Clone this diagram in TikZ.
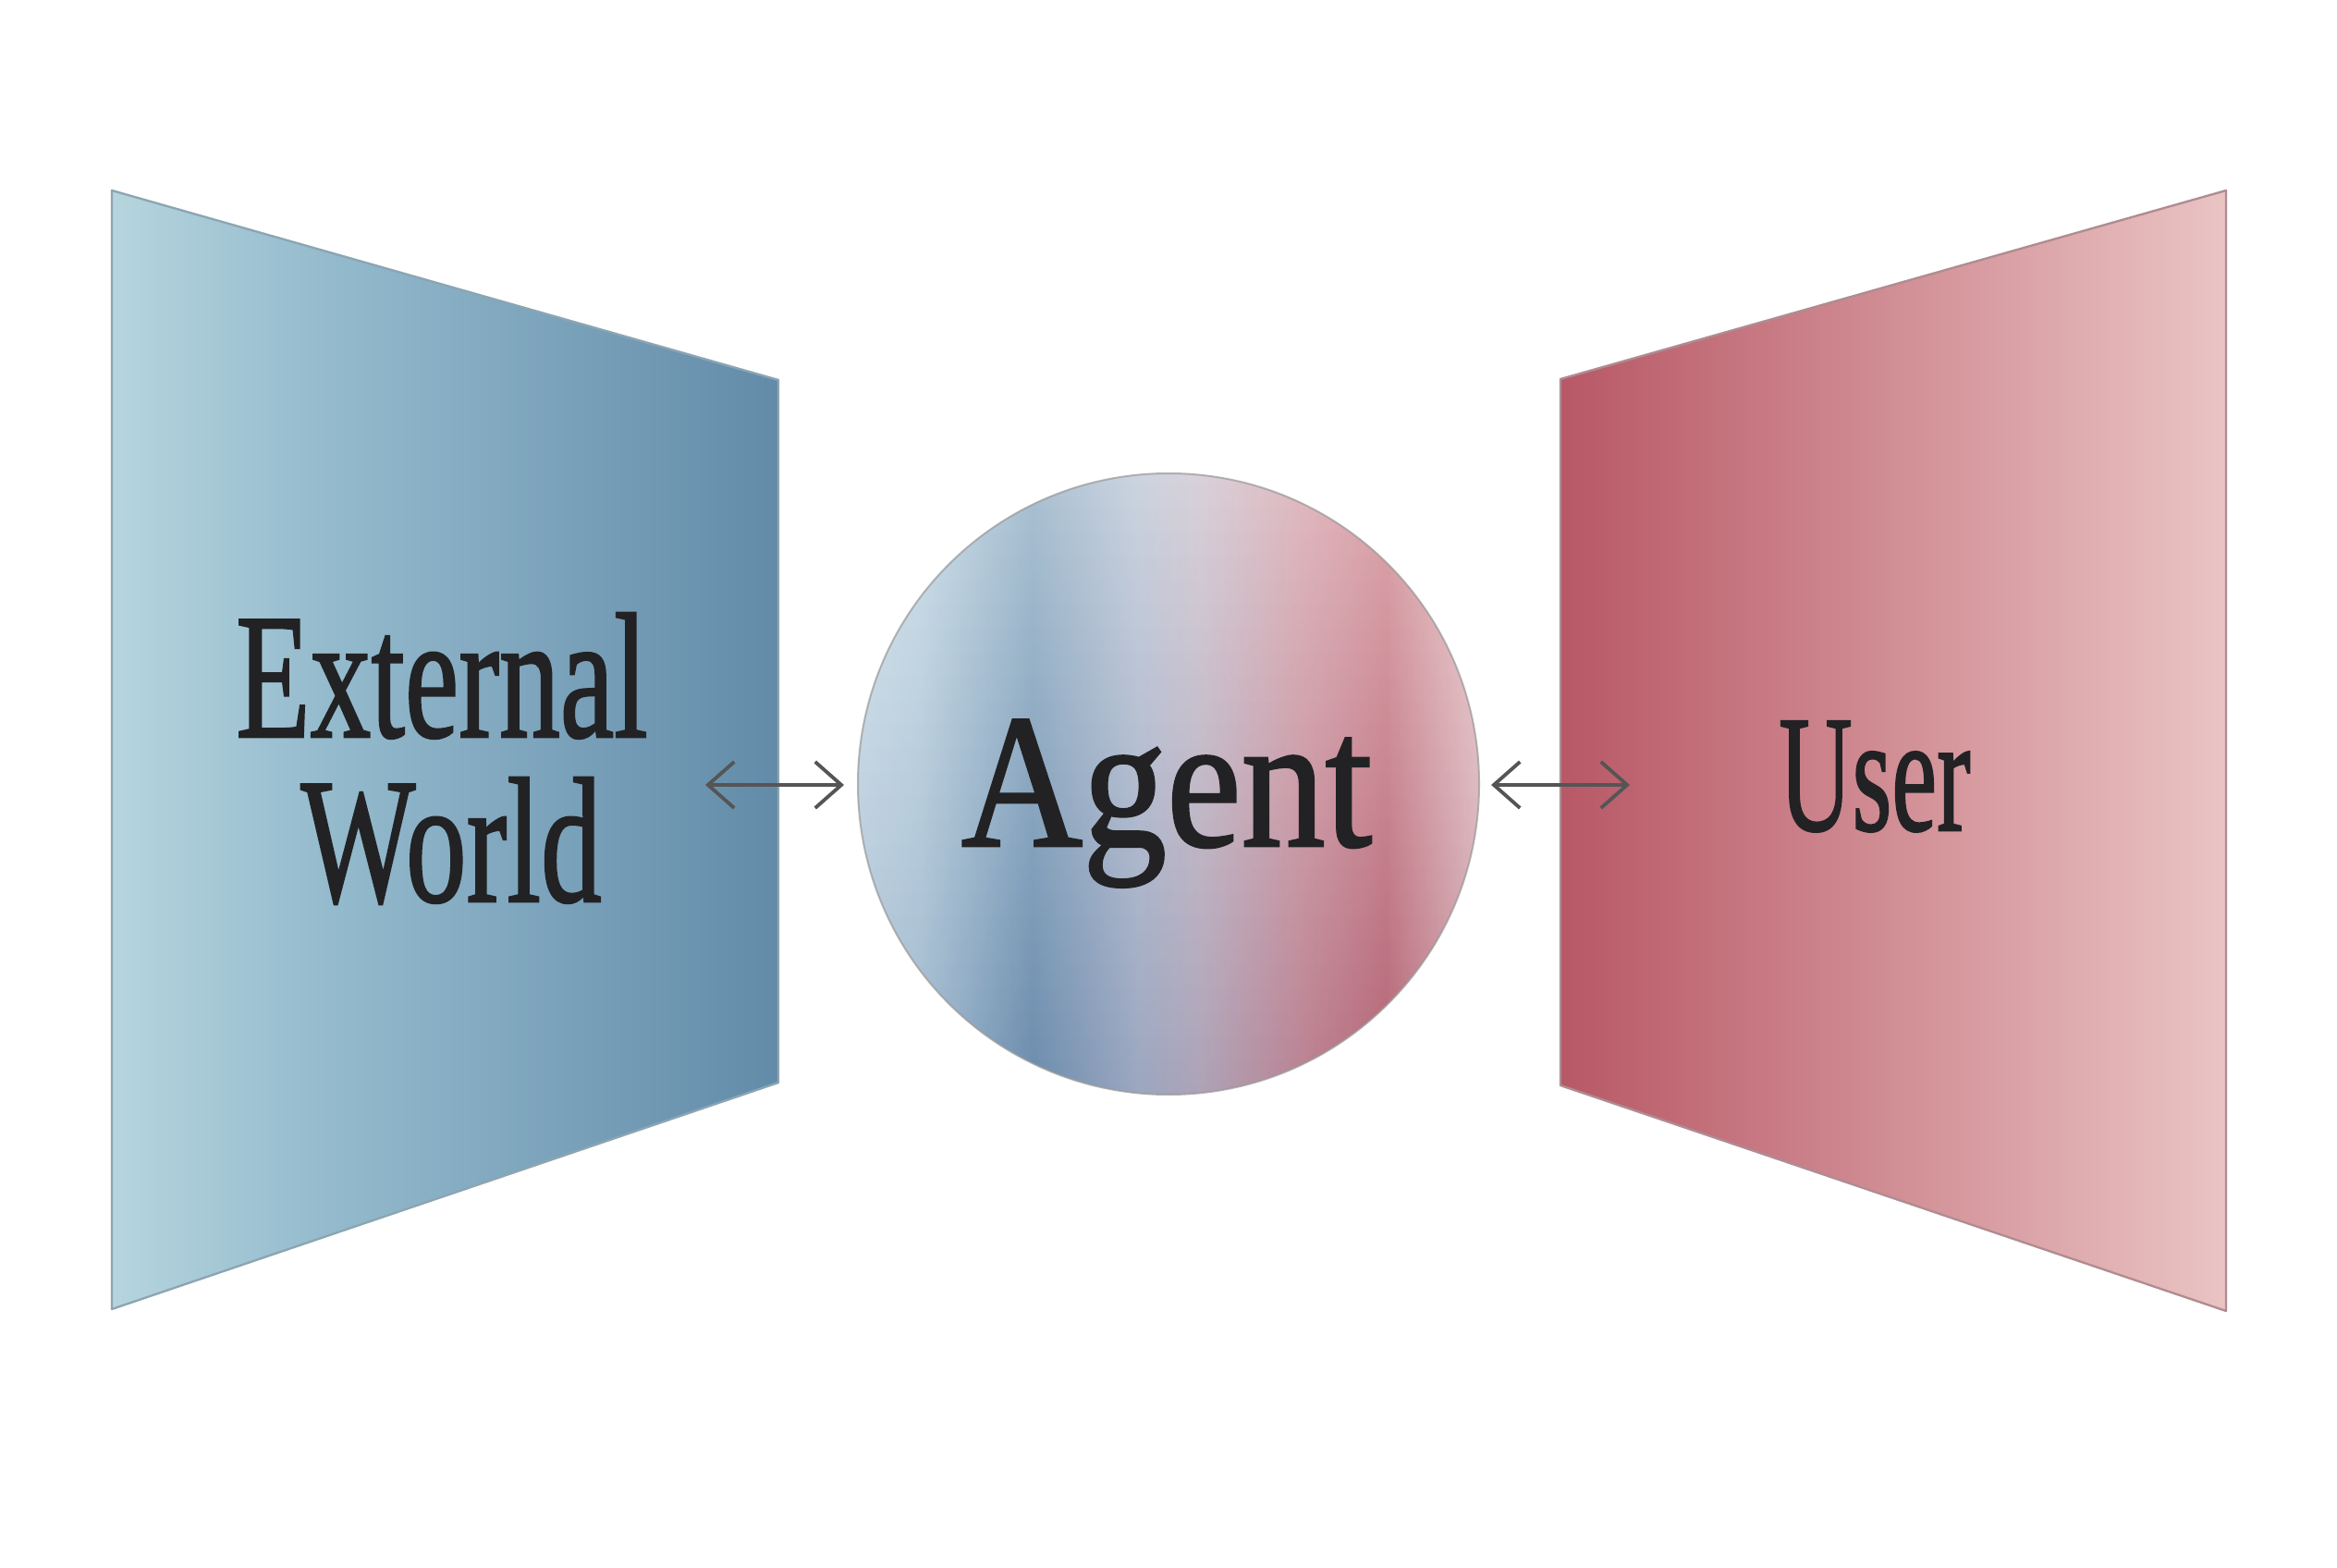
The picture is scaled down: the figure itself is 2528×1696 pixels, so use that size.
\documentclass[tikz,border=0pt]{standalone}
\usepackage{fontspec}
\setmainfont{Liberation Serif}
\newfontfamily\labelfont{Liberation Serif}[FakeBold=1.4]
\usetikzlibrary{arrows.meta,fadings,calc}
\definecolor{ink}{RGB}{34,34,36}
\definecolor{arrowgray}{RGB}{85,85,85}
\definecolor{worldL}{RGB}{182,213,222}
\definecolor{worldM}{RGB}{150,188,206}
\definecolor{worldR}{RGB}{98,139,169}
\definecolor{worldEdge}{RGB}{140,165,178}
\definecolor{userL}{RGB}{184,88,102}
\definecolor{userR}{RGB}{234,196,196}
\definecolor{userEdge}{RGB}{175,140,145}
\definecolor{ag0}{RGB}{194,217,229}
\definecolor{ag1}{RGB}{180,207,222}
\definecolor{ag2}{RGB}{120,157,185}
\definecolor{ag3}{RGB}{174,186,206}
\definecolor{ag4}{RGB}{194,182,196}
\definecolor{ag5}{RGB}{208,144,154}
\definecolor{ag6}{RGB}{202,114,124}
\definecolor{ag7}{RGB}{230,186,188}
\pgfdeclarehorizontalshading{agentshade}{100bp}{
  color(0bp)=(ag0); color(25bp)=(ag0); color(30bp)=(ag1); color(39bp)=(ag2);
  color(47.5bp)=(ag3); color(52.5bp)=(ag4); color(61bp)=(ag5);
  color(67.5bp)=(ag6); color(75bp)=(ag7); color(100bp)=(ag7)}
\pgfdeclarehorizontalshading{worldshade}{100bp}{
  color(0bp)=(worldL); color(25bp)=(worldL); color(40bp)=(worldM); color(75bp)=(worldR); color(100bp)=(worldR)}
\tikzset{
  label/.style={text=ink, inner sep=0pt, anchor=base},
  conn/.style={draw=arrowgray, line width=1.15pt,
    {Straight Barb[length=8.5pt,width=15pt,line width=1.15pt]}-{Straight Barb[length=8.5pt,width=15pt,line width=1.15pt]}},
  panelworld/.style={shading=worldshade, draw=worldEdge, line width=0.7pt, line join=round},
  paneluser/.style={left color=userL, right color=userR, draw=userEdge, line width=0.7pt, line join=round},
}
\begin{document}
\begin{tikzpicture}[x=0.3pt,y=-0.3pt]
\useasboundingbox[fill=white] (0,0) rectangle (2528,1696);
% left panel
\coordinate (wTL) at (121,206);
\coordinate (wTR) at (842,411);
\coordinate (wBR) at (842,1171);
\coordinate (wBL) at (121,1416);
\path[panelworld] (wTL) -- (wTR) -- (wBR) -- (wBL) -- cycle;
% right panel
\coordinate (uTL) at (1688,410);
\coordinate (uTR) at (2408,206);
\coordinate (uBR) at (2408,1418);
\coordinate (uBL) at (1688,1174);
\path[paneluser] (uTL) -- (uTR) -- (uBR) -- (uBL) -- cycle;
% agent sphere
\node[circle, minimum size=201.6pt, inner sep=0pt, shading=agentshade] (agent) at (1264,848) {};
\fill[white, opacity=0.38, path fading=south] (agent.center) circle[radius=100.8pt];
\fill[black!70!blue, opacity=0.10, path fading=north] (agent.center) circle[radius=100.8pt];
\draw[gray!80, opacity=0.7, line width=0.6pt] (agent.center) circle[radius=100.8pt];
% labels
\node[label, xscale=0.68, font=\labelfont\fontsize{58}{60}\selectfont] (ext) at (478,797) {External};
\node[label, xscale=0.68, font=\labelfont\fontsize{58}{60}\selectfont] (world) at (488,975) {World};
\node[label, xscale=0.88, font=\labelfont\fontsize{62}{64}\selectfont] (agentlabel) at (1262,915) {Agent};
\node[label, xscale=0.61, font=\labelfont\fontsize{54}{56}\selectfont] (user) at (2028,898) {User};
% connectors
\coordinate (a1) at (763,849);
\coordinate (a2) at (913,849);
\coordinate (b1) at (1613,849);
\coordinate (b2) at (1763,849);
\draw[conn] (a1) -- (a2);
\draw[conn] (b1) -- (b2);
\end{tikzpicture}
\end{document}
